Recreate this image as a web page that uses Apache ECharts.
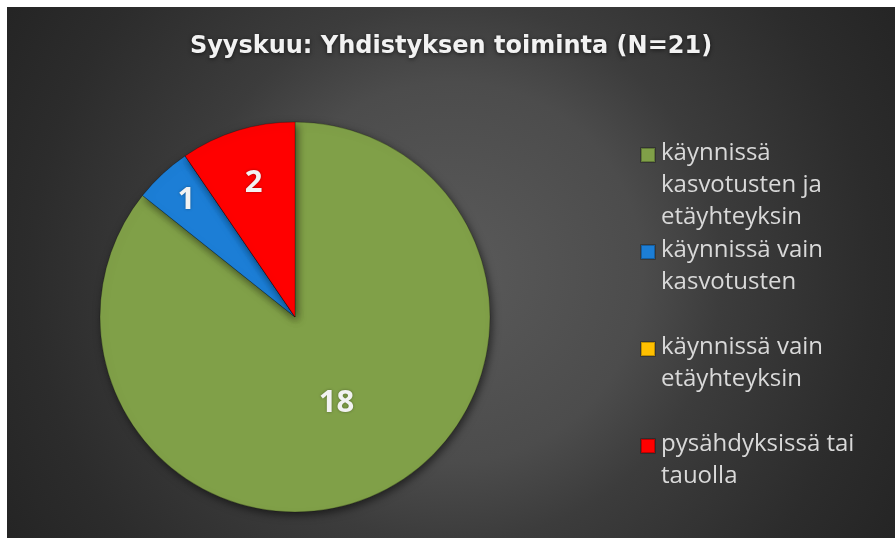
<!DOCTYPE html>
<html>
<head>
<meta charset="utf-8">
<script src="https://cdn.jsdelivr.net/npm/echarts@6/dist/echarts.min.js"></script>
<style>
  html, body { margin: 0; padding: 0; background: #ffffff; }
  #chart {
    position: absolute; left: 7px; top: 7px; width: 888px; height: 531px;
    background: radial-gradient(circle at 445px 265px, #5a5a5a 0px, #4c4c4c 190px, #3c3c3c 270px, #2c2c2c 420px, #232323 540px);
  }
</style>
</head>
<body>
<div id="chart"></div>
<script>
  // data
  const categories = [
    'käynnissä\nkasvotusten ja\netäyhteyksin',
    'käynnissä vain\nkasvotusten',
    'käynnissä vain\netäyhteyksin',
    'pysähdyksissä tai\ntauolla'
  ]
  const values = [18, 1, 0, 2]
  const colors = ['#80a048', '#1c7ed6', '#ffc000', '#ff0000']

  // label distance from center (share of radius)
  const labelRadius = [0.49, 0.82, 0.5, 0.72]
  const pieCenter = [288, 310]
  const pieR = 195

  const chart = echarts.init(document.getElementById('chart'))

  // square icon at top of a tall box, so it lines up with the first text line
  const icon = 'path://M0,0 M0,11 L14,11 L14,25 L0,25 Z M17,96'

  chart.setOption({
    backgroundColor: 'transparent',
    title: {
      text: 'Syyskuu: Yhdistyksen toiminta (N=21)',
      left: 'center',
      top: 28,
      padding: 0,
      textStyle: {
        fontFamily: 'DejaVu Sans',
        fontWeight: 'bold',
        fontSize: 24,
        color: '#f2f2f2',
        textShadowColor: 'rgba(0,0,0,0.6)',
        textShadowBlur: 4,
        textShadowOffsetY: 1
      }
    },
    legend: {
      orient: 'vertical',
      left: 633,
      top: 129,
      padding: 0,
      itemWidth: 17,
      itemHeight: 96,
      itemGap: -1,
      icon: icon,
      selectedMode: false,
      formatter: function (name) {
        return name.split('\n').length < 3 ? name + '\n ' : name
      },
      textStyle: {
        fontFamily: 'Open Sans',
        fontSize: 24,
        lineHeight: 32,
        color: '#d9d9d9',
        padding: [0, 0, 0, -2]
      },
      data: categories
    },
    series: [
      {
        type: 'pie',
        center: pieCenter,
        radius: pieR,
        startAngle: 90,
        clockwise: true,
        label: {
          show: true,
          position: 'inside',
          fontFamily: 'Open Sans',
          fontWeight: 'bold',
          fontSize: 31,
          color: '#f2f2f2',
          textShadowColor: 'rgba(0,0,0,0.35)',
          textShadowBlur: 3,
          formatter: function (p) {
            return p.value ? String(p.value) : ''
          }
        },
        labelLayout: function (p) {
          const k = labelRadius[p.dataIndex]
          const r = p.labelRect
          const vx = r.x + r.width / 2 - pieCenter[0]
          const vy = r.y + r.height / 2 - pieCenter[1]
          const len = Math.sqrt(vx * vx + vy * vy) || 1
          return { dx: vx / len * k * pieR - vx, dy: vy / len * k * pieR - vy }
        },
        labelLine: { show: false },
        itemStyle: {
          borderColor: 'rgba(0,0,0,0.25)',
          borderWidth: 1,
          shadowColor: 'rgba(0,0,0,0.55)',
          shadowBlur: 8,
          shadowOffsetX: 2,
          shadowOffsetY: 3
        },
        emphasis: { disabled: true },
        data: categories.map(function (name, i) {
          return { name: name, value: values[i], itemStyle: { color: colors[i] } }
        })
      }
    ]
  })
</script>
</body>
</html>
